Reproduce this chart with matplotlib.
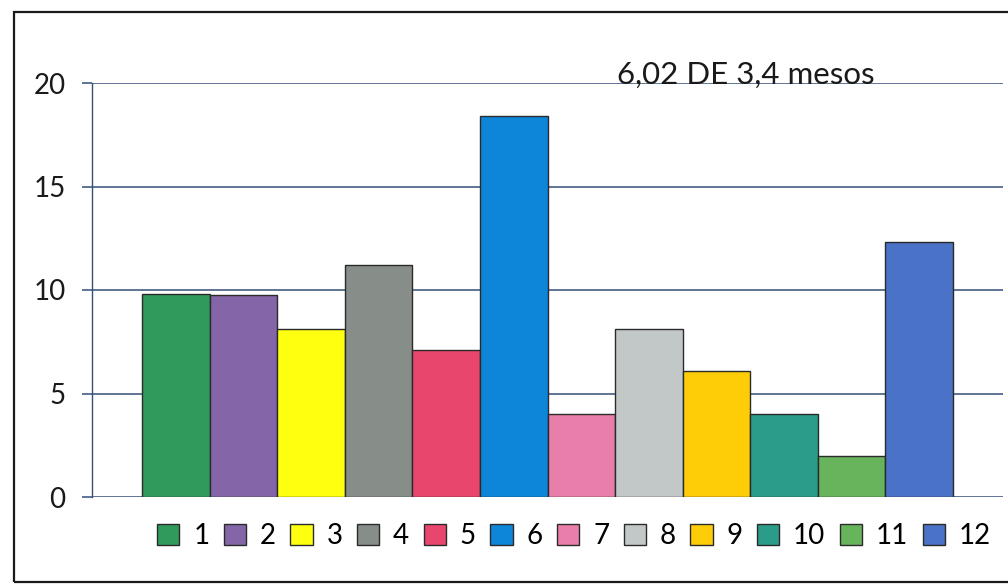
import numpy as np
import matplotlib.pyplot as plt
from matplotlib.patches import Rectangle

labels = ["1", "2", "3", "4", "5", "6", "7", "8", "9", "10", "11", "12"]
values = [9.8, 9.75, 8.1, 11.2, 7.1, 18.4, 4.0, 8.1, 6.1, 4.0, 2.0, 12.3]
colors = ["#2f9a5c", "#8466a8", "#ffff10", "#878d88", "#e8466c", "#0d86da",
          "#ea7eaa", "#c2c8c8", "#ffcc08", "#2c9c8a", "#68b45c", "#4a72c6"]
yticks = [0, 5, 10, 15, 20]
note = "6,02 DE 3,4 mesos"

plt.rcParams["font.family"] = ["Lato", "DejaVu Sans"]
grid_color = "#34507a"

fig = plt.figure(figsize=(10.08, 5.84), dpi=100)
fig.patch.set_facecolor("white")

# scanned page border
fig.patches.append(Rectangle((14 / 1008, 1 - 582 / 584), 1.0, (582 - 12) / 584,
                             transform=fig.transFigure, fill=False,
                             edgecolor="#1a1a1a", linewidth=1.6))

ax = fig.add_axes([92 / 1008, 1 - 497 / 584, (1003 - 92) / 1008, (497 - 83) / 584])

x = np.arange(len(values))
handles = []
for i in range(len(values)):
    b = ax.bar(x[i], values[i], width=1.0, color=colors[i], edgecolor="#2a2a2a",
               linewidth=1.0, label=labels[i], zorder=3)
    handles.append(b)

ax.set_xlim(-0.5 - 0.74, len(values) - 0.5 + 0.74)
ax.set_ylim(0, 20)
ax.set_yticks(yticks)
ax.yaxis.grid(True, color=grid_color, linewidth=1.1)
ax.set_axisbelow(True)
ax.set_xticks([])
for s in ["top", "right", "bottom"]:
    ax.spines[s].set_visible(False)
ax.spines["left"].set_color(grid_color)
ax.spines["left"].set_linewidth(1.0)
ax.tick_params(axis="y", direction="out", length=7, width=1.1, color=grid_color,
               pad=12, labelsize=20, labelcolor="#1a1a1a")

ax.text(617 / 1008, 1 - 75 / 584, note, transform=fig.transFigure,
        ha="left", va="center", fontsize=22.5, color="#1a1a1a")

fig.legend(handles=handles, labels=labels, loc="center", ncol=12,
           bbox_to_anchor=(574 / 1008, 1 - 536 / 584), frameon=False,
           fontsize=20, handlelength=0.8, handleheight=0.8, handletextpad=0.5,
           columnspacing=0.52, borderaxespad=0, borderpad=0)

fig.savefig("out.png", dpi=100, facecolor="white")
